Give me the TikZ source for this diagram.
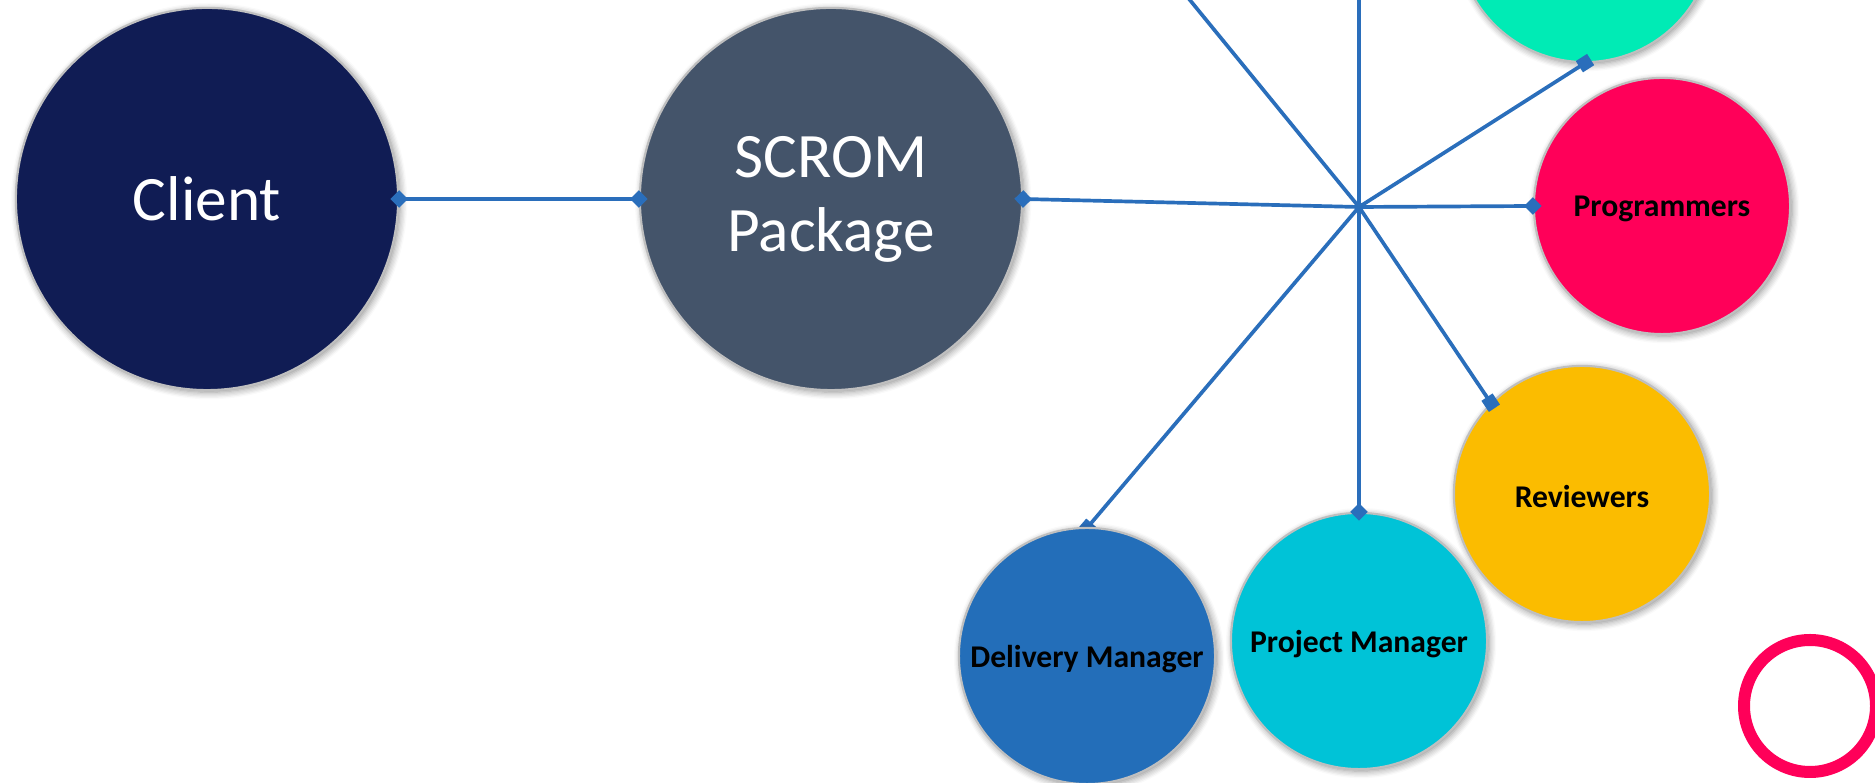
\documentclass[tikz,border=0pt]{standalone}
\usepackage{fontspec}
\setmainfont{Carlito}
\usetikzlibrary{arrows.meta,shadows.blur}
\definecolor{cClient}{HTML}{101C54}
\definecolor{cScrom}{HTML}{44546A}
\definecolor{cProg}{HTML}{FF0059}
\definecolor{cGreen}{HTML}{00EBB5}
\definecolor{cRev}{HTML}{FBBC00}
\definecolor{cPM}{HTML}{00C3D7}
\definecolor{cDM}{HTML}{236EB9}
\definecolor{cLine}{HTML}{2A6EBB}
\newcommand{\lbl}[1]{\raisebox{-0.8pt}[\height][\depth]{#1}}
\tikzset{
  bubble/.style={circle, inner sep=0pt, draw=black!25, line width=0.6pt,
    blur shadow={shadow xshift=0.6pt, shadow yshift=-0.6pt, shadow blur steps=6, shadow opacity=45, shadow blur radius=2pt}},
  bigbubble/.style={bubble, minimum size=3.82cm, text=white, font=\fontsize{18}{21}\selectfont, align=center},
  smallbubble/.style={bubble, minimum size=2.56cm, text=black, font=\fontsize{9}{11}\bfseries},
  conn/.style={draw=cLine, line width=1.05pt},
  dia/.style={-{Diamond[length=5pt,width=5pt]}, shorten >=-2.5pt},
  diaboth/.style={{Diamond[length=5pt,width=5pt]}-{Diamond[length=5pt,width=5pt]}, shorten >=-2.5pt, shorten <=-2.5pt},
  sq/.style={-{Square[length=3.8pt,width=3.8pt]}, shorten >=-1.9pt},
}
\begin{document}
\begin{tikzpicture}[x=0.01cm, y=-0.01cm]
\useasboundingbox (0,0) rectangle (1875,783);
\clip (0,0) rectangle (1875,783);
% nodes
\node[bigbubble, fill=cClient] (client) at (207,199) {Client};
\node[bigbubble, fill=cScrom] (scrom) at (831,199) {SCROM\\Package};
\coordinate (hub) at (1359,207);
\coordinate (upleft) at (1100,-110);
\coordinate (up) at (1359,-150);
\node[smallbubble, fill=cGreen] (green) at (1585,-66) {};
\node[smallbubble, fill=cProg] (prog) at (1662,206) {\lbl{Programmers}};
\node[smallbubble, fill=cRev] (rev) at (1582,494) {\lbl{Reviewers}};
\node[smallbubble, fill=cPM] (pm) at (1359,641) {\lbl{Project Manager}};
% delivery manager connector drawn beneath its circle
\draw[conn, sq] (hub) -- (1087,528);
\node[smallbubble, fill=cDM] (dm) at (1087,656) {\lbl{Delivery Manager}};
% connectors
\draw[conn, diaboth] (client.east) -- (scrom.west);
\draw[conn, dia] (hub) -- (scrom.east);
\draw[conn] (hub) -- (upleft);
\draw[conn] (hub) -- (up);
\draw[conn, sq] (hub) -- (green.south);
\draw[conn, dia] (hub) -- (prog.west);
\draw[conn, sq] (hub) -- (rev.135);
\draw[conn, dia] (hub) -- (pm.north);
\fill[cLine] (hub) circle (5);
% decorative ring
\draw[cProg, line width=12*0.2845pt] (1810,706) circle (66);
\end{tikzpicture}
\end{document}
